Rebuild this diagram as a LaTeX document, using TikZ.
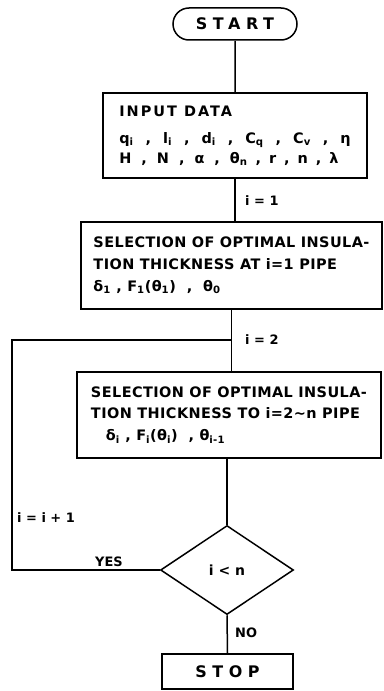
\documentclass[tikz,border=0pt]{standalone}
\usepackage{fontspec}
\setmainfont{DejaVu Sans}
\usetikzlibrary{shapes.geometric, shapes.misc, positioning}

\newcommand{\bajo}[1]{\textsubscript{#1}}
\newcommand{\coma}[1][12bp]{\hspace{#1},\hspace{#1}}

\tikzset{
  caja/.style={draw, line width=1.5bp, align=left, inner sep=0pt,
    font=\bfseries\fontsize{14.5}{20}\selectfont\addfontfeature{LetterSpace=3}},
  terminal/.style={draw, line width=1.5bp, inner sep=0pt,
    font=\bfseries\fontsize{16}{18}\selectfont\addfontfeature{LetterSpace=35}},
  etiq/.style={inner sep=1bp, font=\bfseries\fontsize{13}{15}\selectfont},
  linea/.style={line width=1.5bp},
}

\begin{document}
\begin{tikzpicture}[x=1bp, y=-1bp]
    \useasboundingbox (0,0) rectangle (383,691);

    % Nodos
    \node[terminal, rounded rectangle, minimum width=124bp, minimum height=32bp]
        (inicio) at (235,24) {START};
    \node[caja, minimum width=264bp, minimum height=85bp] (datos) at (235,135.5)
        {{\addfontfeature{LetterSpace=14}INPUT DATA}\\[7bp]
         q\bajo{i}\coma l\bajo{i}\coma d\bajo{i}\coma C\bajo{q}\coma C\bajo{v}\coma η\\
         H\coma[10bp]N\coma[10bp]α\coma[10bp]θ\bajo{n}\coma[8bp]r\coma[8bp]n\coma[8bp]λ};
    \node[caja, minimum width=301bp, minimum height=87bp] (sel1) at (231.5,265.5)
        {SELECTION OF OPTIMAL INSULA-\\[2bp]
         TION THICKNESS AT i=1 PIPE\\[2bp]
         δ\bajo{1} , F\bajo{1}(θ\bajo{1}) \ , \ θ\bajo{0}};
    \node[caja, minimum width=304bp, minimum height=86bp] (sel2) at (229,415)
        {SELECTION OF OPTIMAL INSULA-\\[2bp]
         TION THICKNESS TO i=2\textasciitilde n PIPE\\[2bp]
         \hspace*{15bp}δ\bajo{i} , F\bajo{i}(θ\bajo{i}) \ , θ\bajo{i-1}};
    \node[draw, diamond, line width=1.5bp, inner sep=0pt, minimum width=133bp,
        minimum height=89bp, font=\bfseries\fontsize{14}{16}\selectfont]
        (prueba) at (227,570) {i < n};
    \node[terminal, rectangle, minimum width=131bp, minimum height=35bp]
        (fin) at (227.5,671.5) {STOP};

    % Etiquetas
    \node[etiq, anchor=west] (e1) at (244,201) {i = 1};
    \node[etiq, anchor=west] (e2) at (244,340) {i = 2};
    \node[etiq, anchor=west] (e3) at (16,518) {i = i + 1};
    \node[etiq, anchor=south] (esi) at (109,568) {YES};
    \node[etiq, anchor=west] (eno) at (234,633) {NO};

    % Conectores
    \coordinate (esq) at (12,340);
    \coordinate (union) at (sel1.south |- esq);
    \draw[linea] (inicio) -- (datos);
    \draw[linea] (datos.south) -- (datos.south |- sel1.north);
    \draw[linea] (sel1.south) -- (sel1.south |- sel2.north);
    \draw[linea] (sel2.south -| prueba.north) -- (prueba.north);
    \draw[linea] (prueba.south) -- (fin.north);
    \draw[linea] (prueba.west) -| (esq) -- (union);
\end{tikzpicture}
\end{document}
